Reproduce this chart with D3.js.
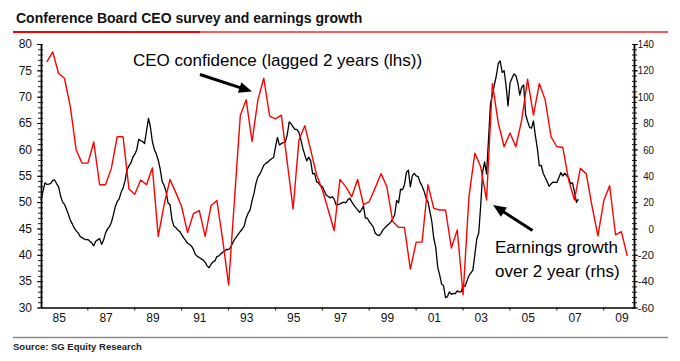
<!DOCTYPE html>
<html><head><meta charset="utf-8">
<script src="https://cdn.jsdelivr.net/npm/d3@7"></script>
<style>body{margin:0;background:#fff}svg{display:block}</style>
</head><body><svg id="c" width="680" height="361"></svg>
<script>
const title = "Conference Board CEO survey and earnings growth";
const source = "Source: SG Equity Research";
const leftTicks = [30,35,40,45,50,55,60,65,70,75,80];
const rightTicks = [-60,-40,-20,0,20,40,60,80,100,120,140];
const xLabels = ["85","87","89","91","93","95","97","99","01","03","05","07","09"];
const xLabelYears = [1985,1987,1989,1991,1993,1995,1997,1999,2001,2003,2005,2007,2009];
const xTickYears = [1986.6,1988.6,1990.6,1992.6,1994.6,1996.6,1998.6,2000.6,2002.6,2004.6,2006.6,2008.6];
const ceoLabel = "CEO confidence (lagged 2 years (lhs))";
const earnLabel = ["Earnings growth","over 2 year (rhs)"];

// CEO confidence, lagged 2 years, quarterly (lhs)
const ceoStart = 1984.875;
const ceoConfidence = [
76.6,78.5,74.4,73.5,68.1,59.9,57.4,57.4,61.4,53.3,
53.3,56.4,62.4,62.4,52.5,51.5,54.2,53.3,56.5,43.5,
49.5,54.3,51.8,49.1,44.2,47.8,48.4,43.5,49.3,50.3,
42.8,34.3,50.4,66.5,69.4,61.5,69.4,73.5,66.3,65.8,
66.5,57.6,48.7,61.8,64.5,59.9,55.2,52.3,48.5,44.6,
54.3,52.9,51.0,54.3,49.5,50.1,52.7,55.4,52.9,46.3,
45.2,45.2,37.3,42.4,42.4,53.3,48.8,48.5,48.5,41.3,
44.7,32.4,51.0,59.3,56.7,50.4,72.5,65.0,60.5,63.1,
60.5,65.6,73.3,66.5,72.5,69.4,62.4,60.5,60.4,54.2,
50.4,56.4,55.4,49.2,43.6,50.3,53.1,43.8,44.4,39.8];

// Earnings growth over 2 years, monthly (rhs)
const earnStart = 1984.625;
const earningsGrowth = [
21.7,28,34.6,33.4,33.6,34.2,36.5,36.8,33.9,31.8,
24.7,20.2,18.3,14.8,10.7,6.4,3.5,0.4,-1.8,-3.4,
-6,-7,-7.9,-8.6,-8.3,-9.7,-11,-13.2,-9.7,-8.7,
-7.7,-12.1,-9,-3.6,-0.5,1.3,4.5,10.1,16.5,20.3,
22.4,27.4,30.6,36.1,44.4,47.5,49.7,54.1,56.4,59.8,
67.6,66.6,66,64.5,74,83.5,77,65.8,60,56.6,
51.8,45,35.6,32.7,28.1,19.4,18.1,6.9,1.8,0.6,
-1.2,-2.2,-4.7,-7.2,-9,-11.2,-12.1,-13.4,-15.9,-19.7,
-21.2,-22.1,-23.1,-24,-25.7,-28.4,-29.8,-27.2,-25.4,-24.6,
-21.3,-20.8,-19.3,-18.1,-17.1,-15.8,-16.1,-14.4,-11.4,-8.4,
-6.4,-4.3,-2.3,-0.4,2,8,11.6,14.1,21.1,26.6,
34.2,39.1,41.2,44.6,47.9,49.4,50.3,51.7,52.9,53.8,
61.9,69.1,63.4,64.4,65.2,65.5,71,80.8,79.4,77,
75.2,75.1,72.9,67.2,60.7,55.8,51.3,54.1,51.3,41.4,
41.8,35.5,34.6,32.5,31.8,28.5,25.2,24.3,23.2,24.1,
22.4,17.9,18.1,18.6,19.4,19.9,19.5,21.7,23,20.2,
17.9,16,14.1,12.3,14.1,17.1,7.8,7.8,5.1,3.3,
1.2,-3.4,-4.9,-5.5,-3.7,-1.1,0.6,2,3.3,4.8,
7.3,10.3,21.3,19.4,29.9,29.3,33.2,42.5,44.3,31.5,
39.9,41.8,39.9,39.4,35,32.3,28.5,23.2,20.5,13,
5.2,-7.6,-14.4,-29.3,-35.2,-42.2,-43.6,-52.5,-51.7,-48.1,
-50,-49.3,-49.5,-47.3,-48.1,-48.1,-43.1,-43.9,-39.8,-35.8,
-33.7,-31.6,-20,-7.9,-3.4,17.1,42.9,50.5,41.4,67.2,
94.5,101.3,108.9,115.9,125.2,127.1,118.4,119.7,108.1,93,
110.3,114,117.3,116.1,110.4,101.3,107.2,108.9,86.5,81.4,
76.7,76.1,81.6,70.2,60.7,47.5,47.8,41.9,38.7,35.7,
32,33.8,35.2,34.9,34.9,38.4,42.5,39.8,41.9,40.2,
38.4,34,34.6,27.7,19.8,22.2];

const FONT = "'Liberation Sans', Arial, sans-serif";
const svg = d3.select("#c");
const L = 41, R = 634, T = 44, B = 307.5;

const x = d3.scaleLinear().domain([1984.625, 1984.625 + (R - L) / 23.45]).range([L, R]);
const yL = d3.scaleLinear().domain([30, 80]).range([B, T]);
const yR = d3.scaleLinear().domain([-60, 140]).range([B, T]);

// title
svg.append("text").attr("x", 16).attr("y", 23).attr("font-family", FONT)
  .attr("font-weight", "bold").attr("font-size", 14).attr("fill", "#111").text(title);
svg.append("line").attr("x1", 13).attr("x2", 668).attr("y1", 32).attr("y2", 32)
  .attr("stroke", "#ff2020").attr("stroke-width", 1.5);
svg.append("line").attr("x1", 13).attr("x2", 200).attr("y1", 32).attr("y2", 32)
  .attr("stroke", "#ff0000").attr("stroke-width", 2.2);

// footer
svg.append("line").attr("x1", 13).attr("x2", 668).attr("y1", 337.5).attr("y2", 337.5)
  .attr("stroke", "#8a8a8a").attr("stroke-width", 1.5);
svg.append("text").attr("x", 13).attr("y", 350).attr("font-family", FONT)
  .attr("font-weight", "bold").attr("font-size", 9.5).attr("fill", "#222").text(source);

// axes
function styleAxis(g) {
  g.select(".domain").attr("stroke", "#000").attr("stroke-width", 1.3);
  g.selectAll(".tick line").attr("stroke", "#000").attr("stroke-width", 0.9);
}
// left axis minor ticks both sides
svg.append("g").attr("transform", `translate(${L},0)`)
  .call(d3.axisLeft(yL).tickValues(d3.range(30, 81, 1)).tickSize(3).tickFormat("").tickSizeOuter(0)).call(styleAxis);
svg.append("g").attr("transform", `translate(${L},0)`)
  .call(d3.axisRight(yL).tickValues(d3.range(30, 81, 1)).tickSize(2).tickFormat("").tickSizeOuter(0)).call(styleAxis);
const gl = svg.append("g").attr("transform", `translate(${L},0)`)
  .call(d3.axisLeft(yL).tickValues(leftTicks).tickSize(4).tickPadding(5).tickSizeOuter(0)).call(styleAxis);
gl.selectAll("text").attr("font-family", FONT).attr("font-size", 12).attr("fill", "#111");

// right axis
svg.append("g").attr("transform", `translate(${R},0)`)
  .call(d3.axisRight(yR).tickValues(d3.range(-60, 141, 4)).tickSize(3).tickFormat("").tickSizeOuter(0)).call(styleAxis);
svg.append("g").attr("transform", `translate(${R},0)`)
  .call(d3.axisLeft(yR).tickValues(d3.range(-60, 141, 4)).tickSize(2).tickFormat("").tickSizeOuter(0)).call(styleAxis);
const gr = svg.append("g").attr("transform", `translate(${R},0)`)
  .call(d3.axisRight(yR).tickValues(rightTicks).tickSize(4).tickFormat("").tickSizeOuter(0)).call(styleAxis);
svg.append("g").selectAll("text").data(rightTicks).join("text")
  .attr("x", 654).attr("y", d => yR(d)).attr("dy", "0.36em")
  .attr("text-anchor", "end").attr("font-family", FONT).attr("font-size", 11.5).attr("fill", "#111")
  .attr("textLength", d => String(d).length * 5.4).attr("lengthAdjust", "spacingAndGlyphs")
  .text(d => d);

// bottom axis
const gb = svg.append("g").attr("transform", `translate(0,${B})`)
  .call(d3.axisBottom(x).tickValues(xTickYears).tickSize(3).tickFormat("").tickSizeOuter(0)).call(styleAxis);
svg.append("g").selectAll("text").data(xLabels).join("text")
  .attr("x", (d, i) => x(xLabelYears[i] + 0.4)).attr("y", 322)
  .attr("text-anchor", "middle").attr("font-family", FONT).attr("font-size", 12).attr("fill", "#111")
  .text(d => d);

// series
const lineCeo = d3.line().x((d, i) => x(ceoStart + i * 0.25)).y(d => yL(d));
const lineEarn = d3.line().x((d, i) => x(earnStart + i / 12)).y(d => yR(d));
svg.append("path").datum(earningsGrowth).attr("d", lineEarn)
  .attr("fill", "none").attr("stroke", "#000").attr("stroke-width", 1.3).attr("stroke-linejoin", "round");
svg.append("path").datum(ceoConfidence).attr("d", lineCeo)
  .attr("fill", "none").attr("stroke", "#ff0000").attr("stroke-width", 1.4).attr("stroke-linejoin", "round");

// annotations
svg.append("text").attr("x", 133).attr("y", 66).attr("font-family", FONT).attr("font-size", 17)
  .attr("fill", "#000").text(ceoLabel);
svg.append("text").attr("x", 495).attr("y", 252.5).attr("font-family", FONT).attr("font-size", 17)
  .attr("fill", "#000").text(earnLabel[0]);
svg.append("text").attr("x", 495).attr("y", 276.5).attr("font-family", FONT).attr("font-size", 17)
  .attr("fill", "#000").text(earnLabel[1]);

function arrow(x1, y1, x2, y2) {
  const a = Math.atan2(y2 - y1, x2 - x1), len = 13, w = 5.5;
  const bx = x2 - len * Math.cos(a), by = y2 - len * Math.sin(a);
  svg.append("line").attr("x1", x1).attr("y1", y1).attr("x2", bx + 2 * Math.cos(a)).attr("y2", by + 2 * Math.sin(a))
    .attr("stroke", "#000").attr("stroke-width", 3);
  const p = [[x2, y2], [bx + w * Math.sin(a), by - w * Math.cos(a)], [bx - w * Math.sin(a), by + w * Math.cos(a)]];
  svg.append("path").attr("d", "M" + p.map(q => q.join(",")).join("L") + "Z").attr("fill", "#000");
}
arrow(200, 74.5, 252, 91.5);
arrow(532.5, 230.5, 493, 205);
</script></body></html>
